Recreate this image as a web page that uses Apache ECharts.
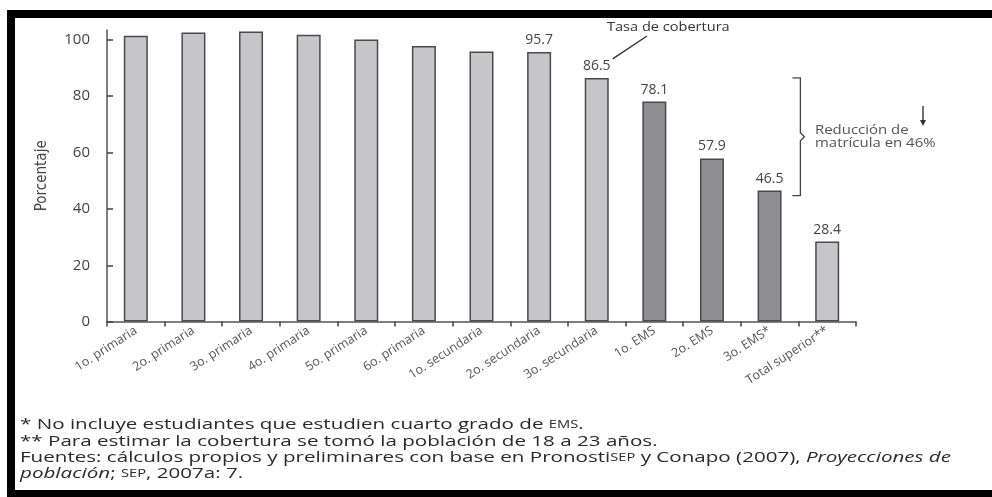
<!DOCTYPE html>
<html>
<head>
<meta charset="utf-8">
<script src="https://cdn.jsdelivr.net/npm/echarts@6/dist/echarts.min.js"></script>
<style>
  html, body { margin: 0; padding: 0; background: #fff; }
  #chart { width: 992px; height: 497px; }
</style>
</head>
<body>
<div id="chart"></div>
<script>
// Coverage rate by school grade (percent)
const categories = [
  '1o. primaria', '2o. primaria', '3o. primaria', '4o. primaria', '5o. primaria',
  '6o. primaria', '1o. secundaria', '2o. secundaria', '3o. secundaria',
  '1o. EMS', '2o. EMS', '3o. EMS*', 'Total superior**'
];
const coverage = [101.5, 102.6, 103.0, 101.8, 100.1, 97.8, 95.9, 95.7, 86.5, 78.1, 57.9, 46.5, 28.4];
// which bars belong to upper-secondary (EMS), drawn darker
const isEMS = [false, false, false, false, false, false, false, false, false, true, true, true, false];
// which bars carry a printed value
const showValue = [false, false, false, false, false, false, false, true, true, true, true, true, true];
const yTicks = [0, 20, 40, 60, 80, 100];

const narrow = '"Liberation Sans Narrow", "DejaVu Sans Condensed", sans-serif';
const sans = '"Open Sans", "DejaVu Sans", sans-serif';

const chart = echarts.init(document.getElementById('chart'), null, { renderer: 'canvas' });

const option = {
  animation: false,
  backgroundColor: '#ffffff',
  grid: { left: 107, right: 136, top: 30, bottom: 175.4, containLabel: false },
  xAxis: {
    type: 'category',
    data: categories,
    boundaryGap: true,
    axisLine: { lineStyle: { color: '#555', width: 1.5 } },
    axisTick: { show: true, alignWithLabel: false, length: 5, lineStyle: { color: '#444', width: 1.5 } },
    axisLabel: {
      rotate: 33, interval: 0, margin: 8,
      color: '#555', fontFamily: sans, fontSize: 12.5
    }
  },
  yAxis: {
    type: 'value',
    min: 0, max: 103.5,
    name: 'Porcentaje',
    nameLocation: 'middle',
    nameGap: 57,
    nameRotate: 90,
    nameTextStyle: { color: '#444', fontFamily: narrow, fontSize: 15 },
    splitLine: { show: false },
    axisLine: { show: true, lineStyle: { color: '#555', width: 1.5 } },
    axisTick: { show: true, inside: true, length: 6, customValues: yTicks, lineStyle: { color: '#444', width: 1.5 } },
    axisLabel: { customValues: yTicks, margin: 17, color: '#444', fontFamily: sans, fontSize: 15 }
  },
  series: [{
    type: 'bar',
    barWidth: 24,
    data: coverage.map((v, i) => ({
      value: v,
      itemStyle: { color: isEMS[i] ? '#8f8f92' : '#c6c6c8' },
      label: { show: showValue[i] }
    })),
    itemStyle: { borderColor: '#4a4a4a', borderWidth: 1.5 },
    label: {
      position: 'top', distance: 5,
      color: '#444', fontFamily: sans, fontSize: 14,
      formatter: p => p.value.toFixed(1)
    }
  }]
};
chart.setOption(option);

// Annotations placed relative to the bars
const px = (i, v) => chart.convertToPixel({ xAxisIndex: 0, yAxisIndex: 0 }, [i, v]);
const p9 = px(8, coverage[8]);              // 3o. secundaria
const braceTop = px(8, coverage[8])[1];     // bracket spans 86.5 -> 46.5
const braceBot = px(11, coverage[11])[1] + 5;
const braceX = (px(11, 0)[0] + px(12, 0)[0]) / 2 + 2;
const braceMid = (braceTop + braceBot) / 2;

const ink = '#2a2a2a';
const rich = {
  sc: { fontSize: 10, fontFamily: sans, fill: ink },
  it: { fontStyle: 'italic', fontSize: 14, fontFamily: sans, fill: ink },
  n: { fontSize: 14, fontFamily: sans, fill: ink }
};
const stretch = 1.47;
const note = (y, text) => ({
  type: 'text', x: 20, y: y, scaleX: stretch,
  style: { text: text, rich: rich, verticalAlign: 'middle' }
});

chart.setOption({
  graphic: [
    // outer frame
    { type: 'rect', shape: { x: 11, y: 14, width: 1000, height: 480 },
      style: { fill: 'none', stroke: '#000', lineWidth: 8 }, z: 100 },
    // "Tasa de cobertura" callout
    { type: 'text', x: 607, y: 21, scaleX: 1.12,
      style: { text: 'Tasa de cobertura', fill: '#333', font: '13px ' + sans } },
    { type: 'line', shape: { x1: p9[0] + 16, y1: p9[1] - 19, x2: 647, y2: 36 },
      style: { stroke: '#333', lineWidth: 1.3 } },
    // bracket
    { type: 'polyline', shape: { points: [
        [braceX - 8, braceTop], [braceX, braceTop], [braceX, braceMid - 4], [braceX + 4, braceMid],
        [braceX, braceMid + 4], [braceX, braceBot], [braceX - 8, braceBot]
      ] }, style: { stroke: '#444', lineWidth: 1.3, fill: 'none' } },
    { type: 'text', x: 815, y: braceMid - 13, scaleX: 1.15,
      style: { text: 'Reducción de\nmatrícula en 46%', fill: '#555', font: '13px ' + sans, lineHeight: 13 } },
    // down arrow
    { type: 'line', shape: { x1: 923, y1: 106, x2: 923, y2: 121 }, style: { stroke: '#333', lineWidth: 1.4 } },
    { type: 'polygon', shape: { points: [[920, 120], [926, 120], [923, 126]] }, style: { fill: '#333' } },
    // footnotes
    note(425, '{n|* No incluye estudiantes que estudien cuarto grado de }{sc|EMS}{n|.}'),
    note(442, '{n|** Para estimar la cobertura se tomó la población de 18 a 23 años.}'),
    note(458, '{n|Fuentes: cálculos propios y preliminares con base en Pronosti}{sc|SEP}{n| y Conapo (2007), }{it|Proyecciones de}'),
    note(474, '{it|población}{n|; }{sc|SEP}{n|, 2007a: 7.}')
  ]
});
</script>
</body>
</html>
